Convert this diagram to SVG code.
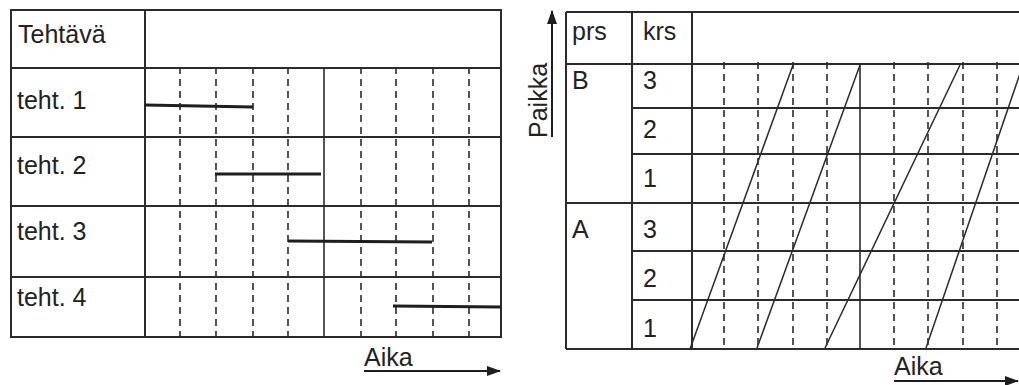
<svg xmlns="http://www.w3.org/2000/svg" width="1019" height="385" viewBox="0 0 1019 385">
  <style>
    .grid { stroke: #2b2b2b; stroke-width: 2; fill: none; }
    .thin { stroke: #2b2b2b; stroke-width: 1.6; fill: none; }
    .dash { stroke: #2b2b2b; stroke-width: 1.6; stroke-dasharray: 7 5; fill: none; }
    .bar { stroke: #1e1e1e; stroke-width: 3; fill: none; }
    .flow { stroke: #2b2b2b; stroke-width: 1.5; fill: none; }
    .axis { stroke: #1e1e1e; stroke-width: 2; fill: none; }
    text { font-family: "Liberation Sans", Arial, sans-serif; font-size: 25px; fill: #222; }
  </style>
  <defs>
    <marker id="head" viewBox="0 0 14 10" refX="13" refY="5" markerWidth="14" markerHeight="10" markerUnits="userSpaceOnUse" orient="auto">
      <path d="M0,0 L14,5 L0,10 Z" fill="#1e1e1e"/>
    </marker>
    <clipPath id="chartClip">
      <rect x="566" y="0" width="453" height="385"/>
    </clipPath>
  </defs>

  <!-- Task schedule (Gantt chart) -->
  <g id="gantt">
    <g id="gantt-grid">
      <rect class="grid" x="11" y="10" width="490" height="327"/>
      <line class="grid" x1="145" y1="10" x2="145" y2="337"/>
      <line class="grid" x1="11" y1="68" x2="501" y2="68"/>
      <line class="grid" x1="11" y1="137" x2="501" y2="137"/>
      <line class="grid" x1="11" y1="206" x2="501" y2="206"/>
      <line class="grid" x1="11" y1="277" x2="501" y2="277"/>
      <line class="thin" x1="324" y1="68" x2="324" y2="337"/>
      <g id="gantt-ticks">
        <line class="dash" x1="180" y1="67" x2="180" y2="337"/>
        <line class="dash" x1="216" y1="67" x2="216" y2="337"/>
        <line class="dash" x1="253" y1="67" x2="253" y2="337"/>
        <line class="dash" x1="288" y1="67" x2="288" y2="337"/>
        <line class="dash" x1="361" y1="67" x2="361" y2="337"/>
        <line class="dash" x1="396" y1="67" x2="396" y2="337"/>
        <line class="dash" x1="433" y1="67" x2="433" y2="337"/>
        <line class="dash" x1="469" y1="67" x2="469" y2="337"/>
      </g>
    </g>
    <g id="gantt-labels">
      <text x="18" y="43">Tehtävä</text>
      <text x="17" y="109">teht. 1</text>
      <text x="17" y="174">teht. 2</text>
      <text x="17" y="240">teht. 3</text>
      <text x="17" y="306">teht. 4</text>
    </g>
    <g id="gantt-bars">
      <line class="bar" x1="145" y1="105" x2="253" y2="107"/>
      <line class="bar" x1="215" y1="174" x2="321" y2="174"/>
      <line class="bar" x1="288" y1="241" x2="432" y2="242"/>
      <line class="bar" x1="393" y1="306" x2="501" y2="307"/>
    </g>
    <g id="gantt-time-axis">
      <text x="364" y="366">Aika</text>
      <line class="axis" x1="364" y1="371" x2="500" y2="371" marker-end="url(#head)"/>
    </g>
  </g>

  <!-- Location-time (line of balance) chart -->
  <g id="lob">
    <g id="lob-grid">
      <line class="grid" x1="566" y1="12" x2="1019" y2="12"/>
      <line class="grid" x1="566" y1="12" x2="566" y2="349"/>
      <line class="grid" x1="566" y1="349" x2="1019" y2="349"/>
      <line class="grid" x1="632" y1="12" x2="632" y2="349"/>
      <line class="grid" x1="692" y1="12" x2="692" y2="349"/>
      <line class="grid" x1="566" y1="64" x2="1019" y2="64"/>
      <line class="grid" x1="566" y1="203" x2="1019" y2="203"/>
      <line class="grid" x1="632" y1="108" x2="1019" y2="108"/>
      <line class="grid" x1="632" y1="154" x2="1019" y2="154"/>
      <line class="grid" x1="632" y1="251" x2="1019" y2="251"/>
      <line class="grid" x1="632" y1="300" x2="1019" y2="300"/>
      <line class="thin" x1="860" y1="64" x2="860" y2="349"/>
      <g id="lob-ticks">
        <line class="dash" x1="724" y1="62" x2="724" y2="346"/>
        <line class="dash" x1="758" y1="62" x2="758" y2="346"/>
        <line class="dash" x1="793" y1="62" x2="793" y2="346"/>
        <line class="dash" x1="827" y1="62" x2="827" y2="346"/>
        <line class="dash" x1="894" y1="62" x2="894" y2="346"/>
        <line class="dash" x1="928" y1="62" x2="928" y2="346"/>
        <line class="dash" x1="963" y1="62" x2="963" y2="346"/>
        <line class="dash" x1="997" y1="62" x2="997" y2="346"/>
      </g>
    </g>
    <g id="lob-labels">
      <text x="572" y="40">prs</text>
      <text x="643" y="40">krs</text>
      <text x="572" y="89">B</text>
      <text x="643" y="89">3</text>
      <text x="643" y="138">2</text>
      <text x="643" y="187">1</text>
      <text x="572" y="238">A</text>
      <text x="643" y="238">3</text>
      <text x="643" y="287">2</text>
      <text x="643" y="337">1</text>
    </g>
    <g id="lob-flows" clip-path="url(#chartClip)">
      <line class="flow" x1="690" y1="349" x2="793" y2="65"/>
      <line class="flow" x1="757" y1="348" x2="860" y2="65"/>
      <line class="flow" x1="825" y1="348" x2="960" y2="65"/>
      <line class="flow" x1="926" y1="348" x2="1026" y2="56"/>
    </g>
    <g id="lob-place-axis">
      <text transform="translate(547,138) rotate(-90)">Paikka</text>
      <line class="axis" x1="552" y1="137" x2="552" y2="11" marker-end="url(#head)"/>
    </g>
    <g id="lob-time-axis">
      <text x="894" y="375">Aika</text>
      <line class="axis" x1="894" y1="381" x2="1018" y2="381" marker-end="url(#head)"/>
    </g>
  </g>
</svg>
